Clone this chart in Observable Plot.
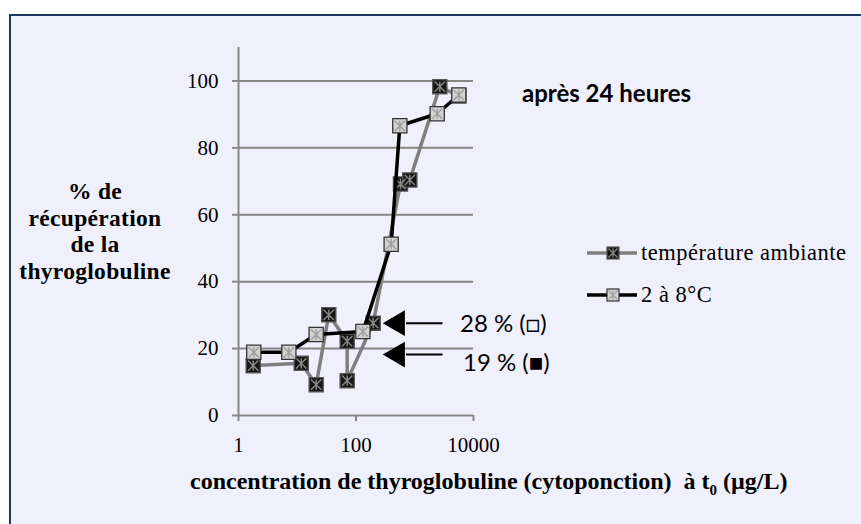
<!DOCTYPE html>
<html>
<head>
<meta charset="utf-8">
<script src="https://cdn.jsdelivr.net/npm/d3@7"></script>
<script src="https://cdn.jsdelivr.net/npm/@observablehq/plot@0.6"></script>
<style>
  html, body { margin: 0; padding: 0; background: #fff; width: 861px; height: 524px; overflow: hidden; }
  #frame { position: absolute; left: 9px; top: 14px; width: 900px; height: 600px;
           border: 2px solid #1f3864; background: #f0f0fc; }
  #chart { position: absolute; left: 0; top: 0; }
  .ov { position: absolute; white-space: nowrap; color: #000; }
  .serif { font-family: "Liberation Serif", "Times New Roman", serif; }
  .sans { font-family: Lato, "Open Sans", sans-serif; }
</style>
</head>
<body>
<div id="frame"></div>
<div id="chart"></div>
<div class="ov serif" id="ylab" style="left:15px; top:178px; width:160px; text-align:center; font-weight:bold; font-size:23.5px; line-height:26.7px; letter-spacing:0.3px;">% de<br>récupération<br>de la<br>thyroglobuline</div>
<div class="ov serif" id="xlab" style="left:190px; top:466px; font-weight:bold; font-size:24px; line-height:30px;">concentration de thyroglobuline (cytoponction)&nbsp; à t<sub style="font-size:15px;">0</sub> (µg/L)</div>
<div class="ov sans" id="title" style="left:522px; top:78px; font-weight:bold; font-size:24px; line-height:30px;">après 24 heures</div>
<div class="ov sans" style="left:460px; top:308px; font-size:24px; line-height:30px;">28 % (□)</div>
<div class="ov sans" style="left:463px; top:347px; font-size:24px; line-height:30px;">19 % (■)</div>
<div id="legend"></div>
<script>
// ---- data ----
const seriesNames = ["température ambiante", "2 à 8°C"];
const conc1 = [1.78, 11.7, 21.0, 34.4, 70.8, 70.8, 196, 572, 824, 2670, 5620];
const recup1 = [14.9, 15.6, 9.2, 30.1, 22.2, 10.4, 27.6, 69.2, 70.4, 98.3, 95.5];
const conc2 = [1.82, 7.19, 21.0, 131, 397, 557, 2410, 5620];
const recup2 = [18.9, 18.9, 24.2, 25.1, 51.2, 86.6, 90.2, 95.8];
const yTicks = [0, 20, 40, 60, 80, 100];
const xTicks = [1, 100, 10000];
const annotY = [27.6, 18.2];
const annotTipX = 294, annotBaseX = 724, annotTailX = 3030;

const s1 = conc1.map((x, i) => ({x, y: recup1[i]}));
const s2 = conc2.map((x, i) => ({x, y: recup2[i]}));
const annots = annotY.map(y => ({y}));

const asterisk = {
  draw(ctx, size) {
    const r = Math.sqrt(size) / 2;
    ctx.moveTo(-r, -r); ctx.lineTo(r, r);
    ctx.moveTo(r, -r); ctx.lineTo(-r, r);
    ctx.moveTo(0, -r); ctx.lineTo(0, r);
  }
};

const AX = "#868686";
function markers(data, fill, stroke, star) {
  return [
    Plot.dot(data, {x: "x", y: "y", symbol: "square", r: 8, fill, stroke, strokeWidth: 1.3}),
    Plot.dot(data, {x: "x", y: "y", symbol: asterisk, r: 5.8, stroke: star, strokeWidth: 1.4, fill: "none"})
  ];
}

const chart = Plot.plot({
  width: 861, height: 524,
  marginLeft: 238, marginRight: 388, marginTop: 47, marginBottom: 109,
  x: {type: "log", domain: [1, 10000]},
  y: {domain: [0, 110]},
  style: {background: "transparent", fontFamily: "'Liberation Serif', 'Times New Roman', serif", fontSize: "21px", color: "#000"},
  marks: [
    Plot.gridY(yTicks.filter(d => d > 0), {stroke: AX, strokeOpacity: 1, strokeWidth: 2}),
    Plot.ruleX([1], {stroke: AX, strokeWidth: 2}),
    Plot.ruleY([0], {stroke: AX, strokeWidth: 2}),
    Plot.axisY(yTicks, {tickSize: 6, tickPadding: 14, stroke: AX, strokeWidth: 2, label: null, fill: "#000"}),
    Plot.axisX(xTicks, {tickSize: 6, tickPadding: 16, stroke: AX, strokeWidth: 2, label: null, tickFormat: d => String(d), fill: "#000"}),
    Plot.line(s1, {x: "x", y: "y", stroke: "#7f7f7f", strokeWidth: 3.5}),
    ...markers(s1, "#161616", "#555", "#8a8a8a"),
    Plot.line(s2, {x: "x", y: "y", stroke: "#000", strokeWidth: 3.5}),
    ...markers(s2, "#d2d2d2", "#333", "#9e9e9e"),
    Plot.ruleY(annots, {y: "y", x1: annotBaseX, x2: annotTailX, stroke: "#000", strokeWidth: 2}),
    Plot.dot(annots, {x: annotTipX, y: "y", symbol: "triangle", rotate: -90, r: 9.5, dx: 14, fill: "#000", stroke: "none"})
  ]
});
document.getElementById("chart").appendChild(chart);

// ---- legend ----
const legendStyles = [
  {line: "#7f7f7f", fill: "#161616", stroke: "#555", star: "#8a8a8a"},
  {line: "#000", fill: "#d2d2d2", stroke: "#333", star: "#9e9e9e"}
];
const legend = document.getElementById("legend");
seriesNames.forEach((name, i) => {
  const st = legendStyles[i];
  const top = 240 + i * 42;
  const row = document.createElement("div");
  row.className = "ov";
  row.style.left = "587px";
  row.style.top = top + "px";
  row.style.height = "26px";
  row.innerHTML =
    `<svg width="50" height="26" style="position:absolute;left:0;top:0">
       <line x1="0" x2="50" y1="13" y2="13" stroke="${st.line}" stroke-width="3.5"/>
       <rect x="20" y="7" width="12" height="12" fill="${st.fill}" stroke="${st.stroke}" stroke-width="1.2"/>
       <path d="M21.5,8.5L30.5,17.5M30.5,8.5L21.5,17.5M26,8.5L26,17.5" stroke="${st.star}" stroke-width="1.2"/>
     </svg>
     <span class="serif" style="position:absolute;left:54px;top:-1px;font-size:22.5px;line-height:28px;letter-spacing:0.5px;">${name}</span>`;
  legend.appendChild(row);
});
</script>
</body>
</html>
